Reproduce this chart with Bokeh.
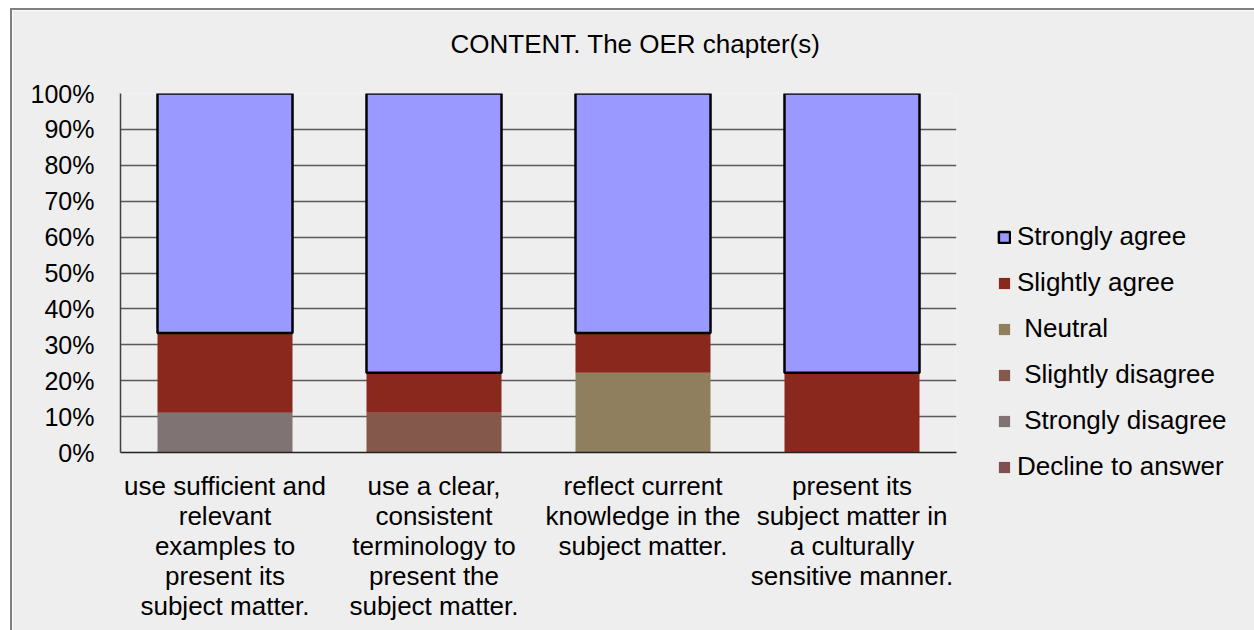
from bokeh.plotting import figure
from bokeh.models import (FactorRange, Range1d, NumeralTickFormatter, Legend, LegendItem,
                          FixedTicker, Title)
from bokeh.embed import file_html
from bokeh.resources import INLINE

# ---- data ----
title_text = "CONTENT. The OER chapter(s)"
category_lines = [
    ["use sufficient and", "relevant", "examples to", "present its", "subject matter."],
    ["use a clear,", "consistent", "terminology to", "present the", "subject matter."],
    ["reflect current", "knowledge in the", "subject matter."],
    ["present its", "subject matter in", "a culturally", "sensitive manner."],
]
categories = ["\n".join(lines) for lines in category_lines]
series = ["Decline to answer", "Strongly disagree", "Slightly disagree",
          "Neutral", "Slightly agree", "Strongly agree"]
decline_to_answer = [0.0, 0.0, 0.0, 0.0]
strongly_disagree = [0.111, 0.0, 0.0, 0.0]
slightly_disagree = [0.0, 0.111, 0.0, 0.0]
neutral = [0.0, 0.0, 0.222, 0.0]
slightly_agree = [0.222, 0.111, 0.111, 0.222]
strongly_agree = [0.667, 0.778, 0.667, 0.778]
legend_labels = ["Strongly agree", "Slightly agree", " Neutral", " Slightly disagree",
                 " Strongly disagree", "Decline to answer"]
y_ticks = [0, 0.1, 0.2, 0.3, 0.4, 0.5, 0.6, 0.7, 0.8, 0.9, 1.0]

colors = ["#7F4F52", "#807373", "#84584A", "#907F5E", "#8B281E", "#9999FF"]

FONT = "Liberation Sans"

source = dict(cat=categories)
for name, vals in zip(series, [decline_to_answer, strongly_disagree, slightly_disagree,
                               neutral, slightly_agree, strongly_agree]):
    source[name] = vals

p = figure(x_range=FactorRange(factors=categories), y_range=Range1d(0, 1),
           width=1242, height=620,
           frame_width=836, frame_height=359,
           min_border_left=108, min_border_right=298, min_border_top=83, min_border_bottom=178,
           output_backend="svg", toolbar_location=None,
           background_fill_color="#EEEEEE", border_fill_color="#EEEEEE")
p.styles = {"border-top": "2px solid #808080", "border-left": "2px solid #808080",
            "margin-left": "10px", "margin-top": "8px"}
p.outline_line_color = None

# spacer between title and plot area
p.add_layout(Title(text=" ", text_font_size="1px", standoff=32), "above")

# title
p.title.text = title_text
p.title.align = "left"
p.title.offset = 330
p.title.standoff = 0
p.title.text_font = FONT
p.title.text_font_size = "26px"
p.title.text_font_style = "normal"
p.title.text_color = "black"

renderers = p.vbar_stack(series, x="cat", width=0.646, source=source,
                         fill_color=colors,
                         line_color=[None, None, None, None, None, "black"],
                         line_width=[0, 0, 0, 0, 0, 2.5])

# axes
p.yaxis.ticker = FixedTicker(ticks=y_ticks)
p.yaxis.formatter = NumeralTickFormatter(format="0%")
p.yaxis.major_label_text_font = FONT
p.yaxis.major_label_text_font_size = "25px"
p.yaxis.major_label_text_color = "black"
p.yaxis.major_tick_line_color = None
p.yaxis.minor_tick_line_color = None
p.yaxis.major_label_standoff = 20
p.yaxis.axis_line_color = "#404040"
p.yaxis.axis_line_width = 1.5

p.xaxis.major_label_text_font = FONT
p.xaxis.major_label_text_font_size = "26px"
p.xaxis.major_label_text_color = "black"
p.xaxis.major_label_text_align = "center"
p.xaxis.major_label_text_line_height = 1.0
p.xaxis.major_tick_line_color = None
p.xaxis.major_label_standoff = 12
p.xaxis.axis_line_color = "#222222"
p.xaxis.axis_line_width = 1.5

p.xgrid.grid_line_color = None
p.ygrid.grid_line_color = "#5A5A5A"
p.ygrid.grid_line_width = 1.5

# legend (top entry = Strongly agree)
items = [LegendItem(label=lab, renderers=[r])
         for lab, r in zip(legend_labels, list(reversed(renderers)))]
legend = Legend(items=items, location=(41, -30),
                label_text_font=FONT, label_text_font_size="26px",
                label_text_color="black",
                glyph_width=14, glyph_height=14, label_standoff=6,
                label_height=30, spacing=15, padding=0, margin=0,
                border_line_color=None, background_fill_alpha=0)
p.add_layout(legend, "right")

open("out.html", "w").write(file_html(p, INLINE))
